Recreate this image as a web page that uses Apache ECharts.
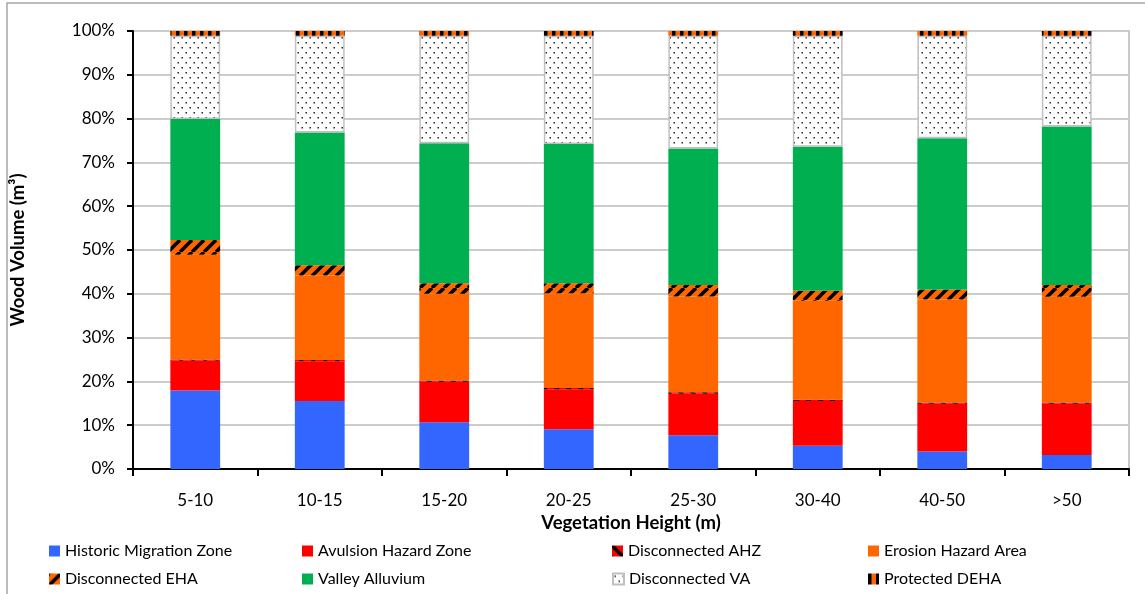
<!DOCTYPE html>
<html>
<head>
<meta charset="utf-8">
<script src="https://cdn.jsdelivr.net/npm/echarts@6/dist/echarts.min.js"></script>
<style>
html,body{margin:0;padding:0;background:#fff;}
#chart{width:1145px;height:594px;}
</style>
</head>
<body>
<div id="chart"></div>
<script>
// ---- data (percent of wood volume) ----
var categories = ['5-10', '10-15', '15-20', '20-25', '25-30', '30-40', '40-50', '>50'];
var historicMigrationZone = [17.9, 15.5, 10.7, 9.1, 7.7, 5.3, 4.0, 3.2];
var avulsionHazardZone    = [6.8, 9.1, 9.2, 9.1, 9.5, 10.2, 10.9, 11.7];
var disconnectedAHZ       = [0.3, 0.3, 0.3, 0.3, 0.3, 0.3, 0.3, 0.3];
var erosionHazardArea     = [23.9, 19.3, 19.8, 21.6, 21.9, 22.6, 23.5, 24.1];
var disconnectedEHA       = [3.4, 2.3, 2.4, 2.3, 2.6, 2.3, 2.3, 2.7];
var valleyAlluvium        = [27.6, 30.3, 32.0, 31.8, 31.2, 32.9, 34.5, 36.2];
var disconnectedVA        = [19.0, 22.1, 24.5, 24.7, 25.7, 25.3, 23.4, 20.7];
var protectedDEHA         = [1.1, 1.1, 1.1, 1.1, 1.1, 1.1, 1.1, 1.1];
var yTickLabels = ['0%', '10%', '20%', '30%', '40%', '50%', '60%', '70%', '80%', '90%', '100%'];
var seriesNames = ['Historic Migration Zone', 'Avulsion Hazard Zone', 'Disconnected AHZ', 'Erosion Hazard Area',
                   'Disconnected EHA', 'Valley Alluvium', 'Disconnected VA', 'Protected DEHA'];

// ---- fill patterns ----
function tile(w, h, bg, draw) {
  var c = document.createElement('canvas');
  c.width = w; c.height = h;
  var ctx = c.getContext('2d');
  ctx.fillStyle = bg; ctx.fillRect(0, 0, w, h);
  draw(ctx, w, h);
  return { image: c, repeat: 'repeat' };
}
function diagStripes(ctx, w, h, dir) {
  ctx.strokeStyle = '#000'; ctx.lineWidth = 3.5;
  var offs = [-w, 0, w];
  for (var i = 0; i < offs.length; i++) {
    ctx.beginPath();
    if (dir > 0) { ctx.moveTo(offs[i], h); ctx.lineTo(offs[i] + w, 0); }
    else { ctx.moveTo(offs[i], 0); ctx.lineTo(offs[i] + w, h); }
    ctx.stroke();
  }
}
var patAHZ = tile(12, 12, '#ff0000', function (ctx, w, h) { diagStripes(ctx, w, h, -1); });
var patDEHA = tile(12, 12, '#ff6600', function (ctx, w, h) { diagStripes(ctx, w, h, 1); });
var patVA = tile(8, 10, '#ffffff', function (ctx) {
  ctx.fillStyle = '#222';
  ctx.fillRect(1.5, 2, 1.5, 1.5);
  ctx.fillRect(5.5, 7, 1.5, 1.5);
});
var patProt = tile(8, 8, '#ff6600', function (ctx) {
  ctx.fillStyle = '#000';
  ctx.fillRect(0, 0, 3.5, 8);
});

var fills = ['#3366ff', '#ff0000', patAHZ, '#ff6600', patDEHA, '#00b050', patVA, patProt];
var values = [historicMigrationZone, avulsionHazardZone, disconnectedAHZ, erosionHazardArea,
              disconnectedEHA, valleyAlluvium, disconnectedVA, protectedDEHA];

var FONT = 'Lato, "Noto Sans", sans-serif';

var series = seriesNames.map(function (n, i) {
  var st = { color: fills[i] };
  if (n === 'Disconnected VA') { st.borderColor = '#c0c0c0'; st.borderWidth = 1.5; }
  return {
    name: n, type: 'bar', stack: 'total', barWidth: '40%',
    data: values[i], itemStyle: st, emphasis: { disabled: true }
  };
});

// legend layout: two rows, four columns
var legendLeft = [44, 297, 607, 863];
var legendTop = [538, 566];
var legends = seriesNames.map(function (n, i) {
  return {
    data: [n], left: legendLeft[i % 4], top: legendTop[Math.floor(i / 4)],
    itemWidth: 11, itemHeight: 11, itemGap: 4, selectedMode: false,
    textStyle: { fontFamily: FONT, fontSize: 16, color: '#000', padding: [0, 0, 0, 0] },
    icon: 'rect'
  };
});

var chart = echarts.init(document.getElementById('chart'), null, { renderer: 'canvas' });
chart.setOption({
  animation: false,
  backgroundColor: '#fff',
  graphic: [{
    type: 'rect', shape: { x: 7, y: 3, width: 1160, height: 620 },
    style: { fill: 'none', stroke: '#a6a6a6', lineWidth: 1.5 }, silent: true
  }],
  grid: { left: 133, top: 31, right: 16, bottom: 125, show: true, borderColor: '#c8c8c8', borderWidth: 2, backgroundColor: 'transparent' },
  legend: legends,
  xAxis: {
    type: 'category', data: categories,
    axisLine: { lineStyle: { color: '#000', width: 2 } },
    axisTick: { show: true, length: 7, lineStyle: { color: '#000', width: 2 } },
    axisLabel: { fontFamily: FONT, fontSize: 17, color: '#000', margin: 23 },
    name: 'Vegetation Height (m)', nameLocation: 'middle', nameGap: 41,
    nameTextStyle: { fontFamily: FONT, fontSize: 18.5, fontWeight: 'bold', color: '#000' }
  },
  yAxis: {
    type: 'value', min: 0, max: 100, interval: 10,
    axisLine: { show: true, lineStyle: { color: '#000', width: 2 } },
    axisTick: { show: true, length: 6, lineStyle: { color: '#000', width: 2 } },
    axisLabel: {
      fontFamily: FONT, fontSize: 17, color: '#000', margin: 18,
      formatter: function (v) { return yTickLabels[Math.round(v / 10)]; }
    },
    splitLine: { lineStyle: { color: '#cccccc', width: 2 } },
    name: 'Wood Volume (m³)', nameLocation: 'middle', nameGap: 105, nameRotate: 90,
    nameTextStyle: { fontFamily: FONT, fontSize: 18.5, fontWeight: 'bold', color: '#000' }
  },
  series: series
});
</script>
</body>
</html>
